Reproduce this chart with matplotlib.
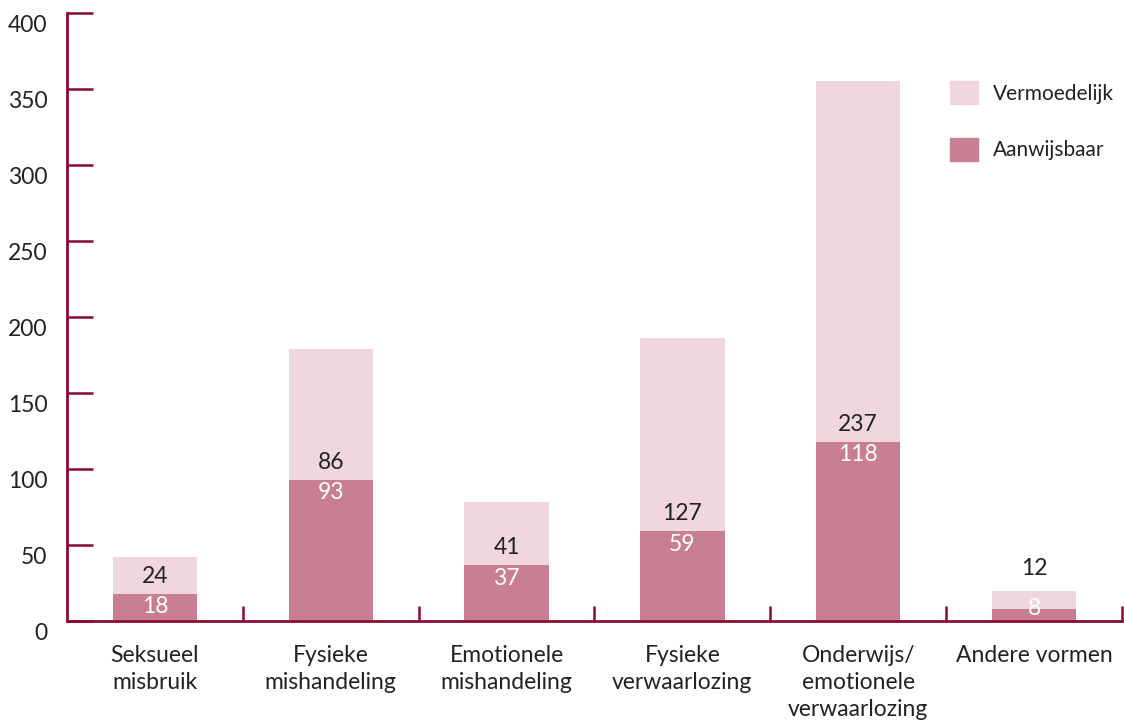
import numpy as np
import matplotlib
matplotlib.use('Agg')
import matplotlib.pyplot as plt
from matplotlib.transforms import ScaledTranslation
from matplotlib.patches import Patch

categories = ['Seksueel\nmisbruik', 'Fysieke\nmishandeling', 'Emotionele\nmishandeling',
              'Fysieke\nverwaarlozing', 'Onderwijs/\nemotionele\nverwaarlozing', 'Andere vormen']
aanwijsbaar = [18, 93, 37, 59, 118, 8]
vermoedelijk = [24, 86, 41, 127, 237, 12]
yticks = [0, 50, 100, 150, 200, 250, 300, 350, 400]

dark = '#c97f93'
light = '#f0d6dd'
axis_col = '#8b0a30'
txt = '#222222'
fs = 16.5
plt.rcParams['font.family'] = ['Lato', 'DejaVu Sans']

fig = plt.figure(figsize=(11.24, 7.21), dpi=100)
ax = fig.add_axes([67/1124, 1 - 621/721, 1055/1124, 608/721])

x = np.arange(len(categories))
w = 0.48
ax.bar(x, aanwijsbaar, w, color=dark, label='Aanwijsbaar', zorder=2)
ax.bar(x, vermoedelijk, w, bottom=aanwijsbaar, color=light, label='Vermoedelijk', zorder=2)

for i, (a, v) in enumerate(zip(aanwijsbaar, vermoedelijk)):
    if a >= 15:
        ax.annotate(str(a), (i, a), xytext=(0, -2), textcoords='offset points',
                    ha='center', va='top', color='white', fontsize=fs)
    else:
        ax.annotate(str(a), (i, a), ha='center', va='center', color='white', fontsize=fs)
    base = a if v >= 20 else a + v
    pad = 5 if v >= 20 else 8
    ax.annotate(str(v), (i, base), xytext=(0, pad), textcoords='offset points',
                ha='center', va='bottom', color=txt, fontsize=fs)

ax.set_xlim(-0.5, 5.5)
ax.set_ylim(0, 400)
ax.set_yticks(yticks)
ax.set_xticks(x)
ax.set_xticklabels(categories, fontsize=fs, color=txt, linespacing=1.35)
ax.set_xticks(x + 0.5, minor=True)

for s in ['top', 'right']:
    ax.spines[s].set_visible(False)
for s in ['left', 'bottom']:
    ax.spines[s].set_color(axis_col)
    ax.spines[s].set_linewidth(2)

ax.tick_params(axis='y', direction='in', length=19, width=1.8, color=axis_col,
               labelsize=fs, labelcolor=txt, pad=14)
ax.tick_params(axis='x', which='major', length=0, pad=17)
ax.tick_params(axis='x', which='minor', direction='in', length=11, width=1.8, color=axis_col)

off = ScaledTranslation(0, -11/100, fig.dpi_scale_trans)
for lab in ax.get_yticklabels():
    lab.set_transform(lab.get_transform() + off)

handles = [Patch(color=light), Patch(color=dark)]
ax.legend(handles, ['Vermoedelijk', 'Aanwijsbaar'], loc='upper left',
          bbox_to_anchor=((950 - 67)/1055, 1 - (81 - 13)/608), frameon=False, fontsize=15,
          handlelength=1.35, handleheight=1.35, labelspacing=1.6, handletextpad=0.7,
          borderpad=0, borderaxespad=0, labelcolor=txt)

fig.savefig('out.png', dpi=100)
